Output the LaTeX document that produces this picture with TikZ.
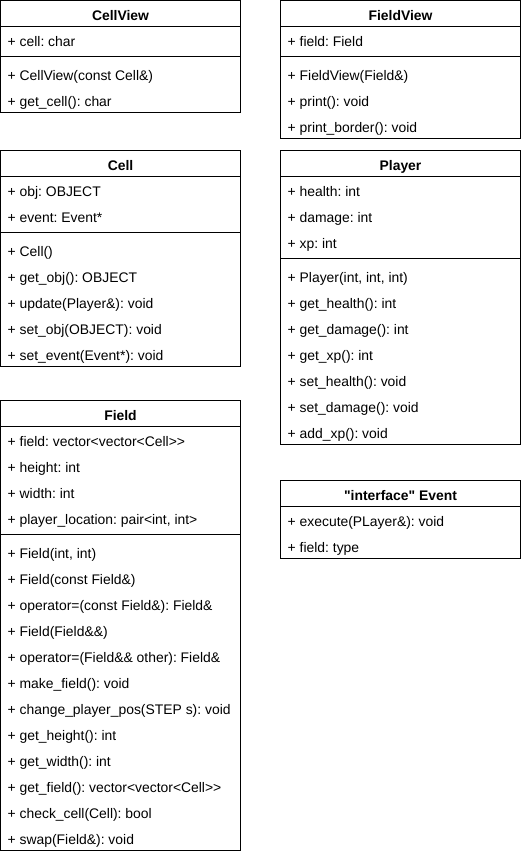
\documentclass[tikz,border=0pt]{standalone}
\usepackage{fontspec}
\setmainfont{Liberation Sans}
\newfontfamily\umlfont{Liberation Sans}
\frenchspacing
\begin{document}
\begin{tikzpicture}[x=1pt,y=-1pt,font=\umlfont\fontsize{13.9}{16}\selectfont]
\tikzset{
  classbox/.style={draw, line width=1pt, anchor=north west, inner sep=0pt, outer sep=0pt, minimum width=240pt},
  classtitle/.style={anchor=base, font=\umlfont\fontsize{13.9}{16}\selectfont\bfseries, inner sep=0pt},
  member/.style={anchor=base west, inner sep=0pt},
  divider/.style={line width=1pt}
}
\useasboundingbox (0,0) rectangle (522,854);

% ---------- CellView ----------
\node[classbox, minimum height=112pt] (cellview) at (0.5,0.5) {};
\node[classtitle] (cellview-t) at ([shift={(0,20)}]cellview.north) {CellView};
\draw[divider] ([shift={(0,26)}]cellview.north west) -- ([shift={(0,26)}]cellview.north east);
\draw[divider] ([shift={(0,56)}]cellview.north west) -- ([shift={(0,56)}]cellview.north east);
\foreach \t [count=\i] in {{+ cell: char}}
  \node[member] (cellview-a\i) at ([shift={(7,20+26*\i)}]cellview.north west) {\t};
\foreach \t [count=\i] in {{+ CellView(const Cell\&)}, {+ get\_cell(): char}}
  \node[member] (cellview-m\i) at ([shift={(7,54+26*\i)}]cellview.north west) {\t};

% ---------- FieldView ----------
\node[classbox, minimum height=138pt] (fieldview) at (280.5,0.5) {};
\node[classtitle] (fieldview-t) at ([shift={(0,20)}]fieldview.north) {FieldView};
\draw[divider] ([shift={(0,26)}]fieldview.north west) -- ([shift={(0,26)}]fieldview.north east);
\draw[divider] ([shift={(0,56)}]fieldview.north west) -- ([shift={(0,56)}]fieldview.north east);
\foreach \t [count=\i] in {{+ field: Field}}
  \node[member] (fieldview-a\i) at ([shift={(7,20+26*\i)}]fieldview.north west) {\t};
\foreach \t [count=\i] in {{+ FieldView(Field\&)}, {+ print(): void}, {+ print\_border(): void}}
  \node[member] (fieldview-m\i) at ([shift={(7,54+26*\i)}]fieldview.north west) {\t};

% ---------- Cell ----------
\node[classbox, minimum height=216pt] (cell) at (0.5,150.5) {};
\node[classtitle] (cell-t) at ([shift={(0,20)}]cell.north) {Cell};
\draw[divider] ([shift={(0,26)}]cell.north west) -- ([shift={(0,26)}]cell.north east);
\draw[divider] ([shift={(0,82)}]cell.north west) -- ([shift={(0,82)}]cell.north east);
\foreach \t [count=\i] in {{+ obj: OBJECT}, {+ event: Event*}}
  \node[member] (cell-a\i) at ([shift={(7,20+26*\i)}]cell.north west) {\t};
\foreach \t [count=\i] in {{+ Cell()}, {+ get\_obj(): OBJECT}, {+ update(Player\&): void}, {+ set\_obj(OBJECT): void}, {+ set\_event(Event*): void}}
  \node[member] (cell-m\i) at ([shift={(7,80+26*\i)}]cell.north west) {\t};

% ---------- Player ----------
\node[classbox, minimum height=294pt] (player) at (280.5,150.5) {};
\node[classtitle] (player-t) at ([shift={(0,20)}]player.north) {Player};
\draw[divider] ([shift={(0,26)}]player.north west) -- ([shift={(0,26)}]player.north east);
\draw[divider] ([shift={(0,108)}]player.north west) -- ([shift={(0,108)}]player.north east);
\foreach \t [count=\i] in {{+ health: int}, {+ damage: int}, {+ xp: int}}
  \node[member] (player-a\i) at ([shift={(7,20+26*\i)}]player.north west) {\t};
\foreach \t [count=\i] in {{+ Player(int, int, int)}, {+ get\_health(): int}, {+ get\_damage(): int}, {+ get\_xp(): int}, {+ set\_health(): void}, {+ set\_damage(): void}, {+ add\_xp(): void}}
  \node[member] (player-m\i) at ([shift={(7,106+26*\i)}]player.north west) {\t};

% ---------- Field ----------
\node[classbox, minimum height=450pt] (field) at (0.5,400.5) {};
\node[classtitle] (field-t) at ([shift={(0,20)}]field.north) {Field};
\draw[divider] ([shift={(0,26)}]field.north west) -- ([shift={(0,26)}]field.north east);
\draw[divider] ([shift={(0,134)}]field.north west) -- ([shift={(0,134)}]field.north east);
\foreach \t [count=\i] in {{+ field: vector<vector<Cell>>}, {+ height: int}, {+ width: int}, {+ player\_location: pair<int, int>}}
  \node[member] (field-a\i) at ([shift={(7,20+26*\i)}]field.north west) {\t};
\foreach \t [count=\i] in {{+ Field(int, int)}, {+ Field(const Field\&)}, {+ operator=(const Field\&): Field\&}, {+ Field(Field\&\&)}, {+ operator=(Field\&\& other): Field\&}, {+ make\_field(): void}, {+ change\_player\_pos(STEP s): void}, {+ get\_height(): int}, {+ get\_width(): int}, {+ get\_field(): vector<vector<Cell>>}, {+ check\_cell(Cell): bool}, {+ swap(Field\&): void}}
  \node[member] (field-m\i) at ([shift={(7,132+26*\i)}]field.north west) {\t};

% ---------- Event ----------
\node[classbox, minimum height=78pt] (event) at (280.5,480.5) {};
\node[classtitle] (event-t) at ([shift={(0,20)}]event.north) {"interface" Event};
\draw[divider] ([shift={(0,26)}]event.north west) -- ([shift={(0,26)}]event.north east);
\foreach \t [count=\i] in {{+ execute(PLayer\&): void}, {+ field: type}}
  \node[member] (event-a\i) at ([shift={(7,20+26*\i)}]event.north west) {\t};
\end{tikzpicture}
\end{document}
